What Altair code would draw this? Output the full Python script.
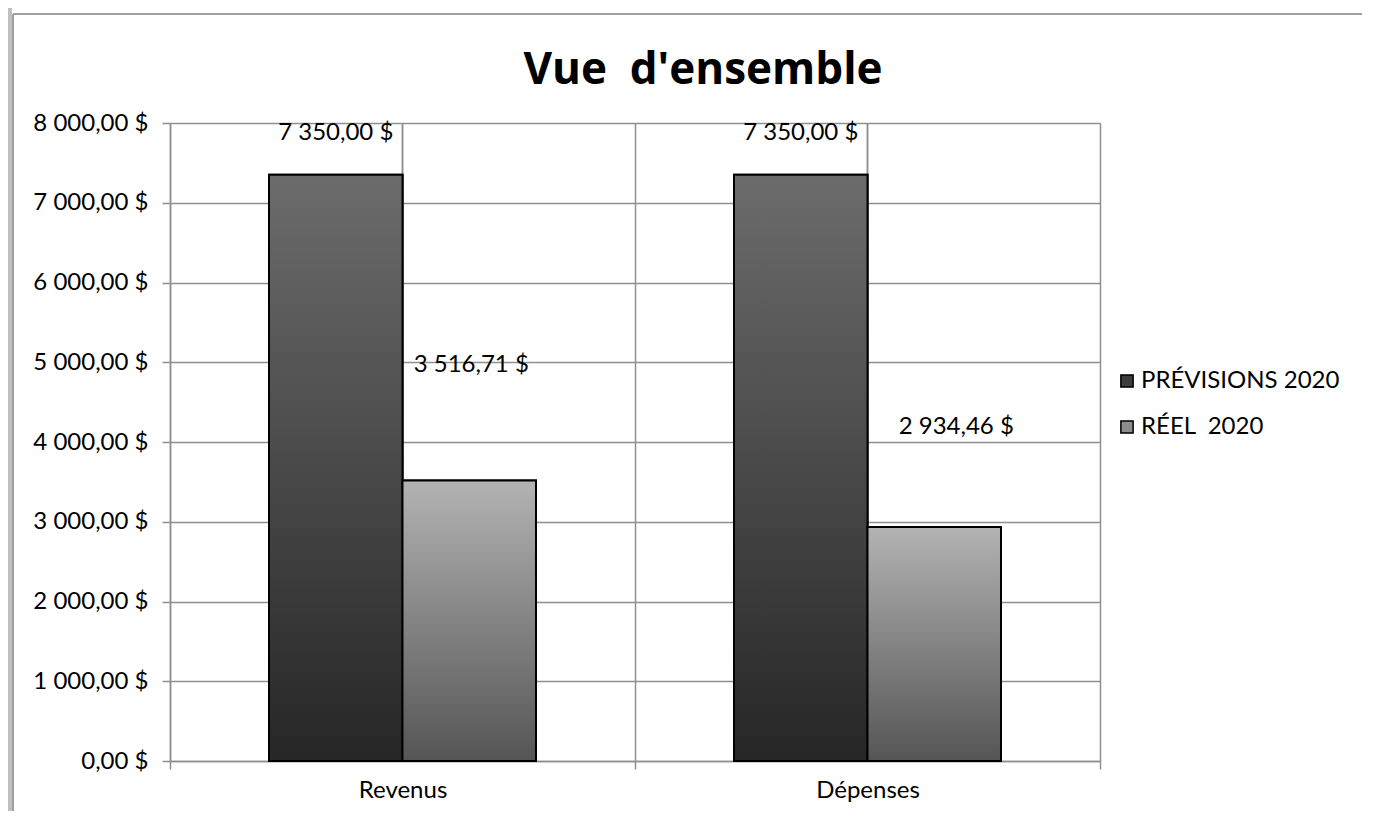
import altair as alt
import pandas as pd

categories = ["Revenus", "Dépenses"]
series = ["PRÉVISIONS 2020", "RÉEL\u00a0 2020"]
previsions = [7350.00, 7350.00]
reel = [3516.71, 2934.46]
title_text = "Vue\u00a0 d'ensemble"

rows = []
for i, c in enumerate(categories):
    rows.append({"category": c, "series": series[0], "value": previsions[i]})
    rows.append({"category": c, "series": series[1], "value": reel[i]})
df = pd.DataFrame(rows)

FONT = "Lato"
FS = 24
GRID = "#8f8f8f"
LABEL_EXPR = "replace(replace(format(datum.value, ',.2f'), regexp(',', 'g'), ' '), '.', ',') + ' $'"

xscale = alt.Scale(paddingInner=0, paddingOuter=0)
xenc = alt.X("category:N", sort=categories, scale=xscale,
             axis=alt.Axis(title=None, tickBand="extent", grid=True, gridColor=GRID, gridWidth=1.5,
                           domainColor=GRID, domainWidth=1.5, tickColor=GRID, tickWidth=1.5, tickSize=8,
                           labelFont=FONT, labelFontSize=FS, labelColor="black", labelPadding=9,
                           labelAngle=0, labelAlign="center", labelBaseline="top"))
yenc = alt.Y("value:Q", scale=alt.Scale(domain=[0, 8000], nice=False),
             axis=alt.Axis(title=None, values=list(range(0, 8001, 1000)), labelExpr=LABEL_EXPR,
                           grid=True, gridColor=GRID, gridWidth=1.5, domainColor=GRID, domainWidth=1.5,
                           tickColor=GRID, tickWidth=1.5, tickSize=8, labelFont=FONT, labelFontSize=FS,
                           labelColor="black", labelPadding=14))
xoff = alt.XOffset("series:N", sort=series, scale=alt.Scale(paddingInner=0, paddingOuter=0.7416))

base = alt.Chart(df)

center_rules = base.mark_rule(color=GRID, strokeWidth=1.5).encode(
    x=alt.X("category:N", sort=categories, bandPosition=0.5)
)

solid = base.mark_bar(stroke="black", strokeWidth=2).encode(
    x=xenc, y=yenc, xOffset=xoff,
    color=alt.Color("series:N", sort=series,
                    scale=alt.Scale(domain=series, range=["#3e3e3e", "#8c8c8c"]),
                    legend=alt.Legend(title=None, orient="none", legendX=945, legendY=246,
                                      symbolType="square", symbolSize=150, symbolStrokeColor="black",
                                      symbolStrokeWidth=1.5, labelFont=FONT, labelFontSize=FS,
                                      labelColor="black", labelOffset=2, rowPadding=22, padding=0,
                                      labelLimit=400))
)

grad_prev = alt.Gradient(gradient="linear", x1=0, x2=0, y1=0, y2=1,
                         stops=[alt.GradientStop(color="#6c6c6c", offset=0),
                                alt.GradientStop(color="#262626", offset=1)])
grad_reel = alt.Gradient(gradient="linear", x1=0, x2=0, y1=0, y2=1,
                         stops=[alt.GradientStop(color="#b3b3b3", offset=0),
                                alt.GradientStop(color="#555555", offset=1)])

bars_prev = base.transform_filter(alt.datum.series == series[0]).mark_bar(
    fill=grad_prev, stroke="black", strokeWidth=2).encode(x=xenc, y=yenc, xOffset=xoff)
bars_reel = base.transform_filter(alt.datum.series == series[1]).mark_bar(
    fill=grad_reel, stroke="black", strokeWidth=2).encode(x=xenc, y=yenc, xOffset=xoff)

def labels(filt, dy, dx=0):
    return base.transform_filter(filt).transform_calculate(
        label=LABEL_EXPR
    ).mark_text(
        font=FONT, fontSize=FS, color="black", baseline="middle", align="center", dy=dy, dx=dx
    ).encode(x=alt.X("category:N", sort=categories), y=alt.Y("value:Q"),
             xOffset=xoff, text="label:N")

lab_prev = labels(alt.datum.series == series[0], -42)
lab_reel_rev = labels((alt.datum.series == series[1]) & (alt.datum.category == categories[0]), -116, 2)
lab_reel_dep = labels((alt.datum.series == series[1]) & (alt.datum.category == categories[1]), -100, 22)

title = alt.Chart(pd.DataFrame({"t": [title_text]})).mark_text(
    font="Open Sans", fontSize=44, fontWeight="bold", color="black",
    align="center", baseline="alphabetic"
).encode(text="t:N", x=alt.value(533), y=alt.value(-39))

# frame decorations (Excel chart-area border)
strip = base.mark_rect(color="#c0c0c0").encode(
    x=alt.value(-162), x2=alt.value(-158), y=alt.value(-115), y2=alt.value(700))
left_line = base.mark_rule(color="#a0a0a0", strokeWidth=2).encode(
    x=alt.value(-157), y=alt.value(-109), y2=alt.value(700))
top_line = base.mark_rule(color="#a0a0a0", strokeWidth=2).encode(
    x=alt.value(-157), x2=alt.value(1220), y=alt.value(-109))

chart = alt.layer(
    center_rules, solid, bars_prev, bars_reel, lab_prev, lab_reel_rev, lab_reel_dep,
    title, strip, left_line, top_line
).properties(
    width=930, height=638,
    autosize=alt.AutoSizeParams(type="none"),
    padding={"left": 162, "top": 115, "right": 262, "bottom": 50},
).configure_view(stroke=None).configure(background="white")

chart.save("out.html", embed_options={"renderer": "svg", "actions": False})
